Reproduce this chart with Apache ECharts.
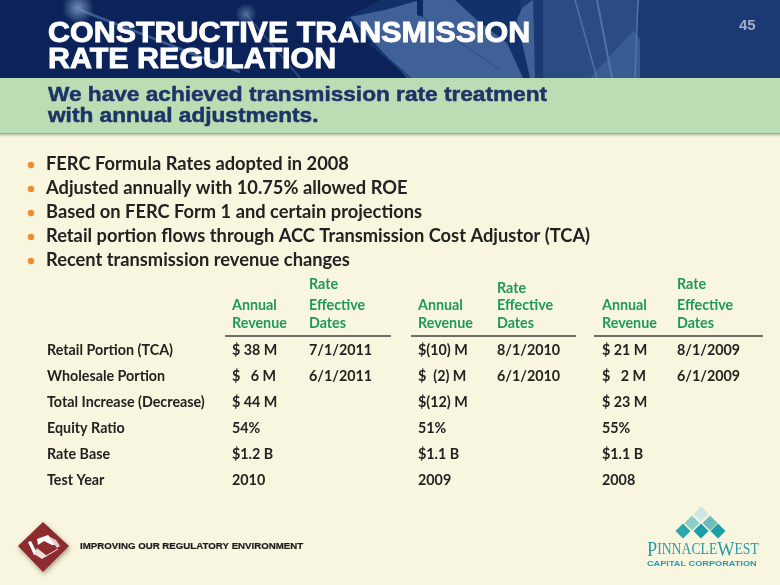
<!DOCTYPE html>
<html><head><meta charset="utf-8">
<style>html,body{margin:0;padding:0;background:#f9f6df}#c{width:780px;height:585px}</style>
<script src="https://cdn.jsdelivr.net/npm/echarts@6/dist/echarts.min.js"></script>
</head><body><div id="c"></div>
<script>
const titleLines = ['CONSTRUCTIVE TRANSMISSION', 'RATE REGULATION'];
const subtitleLines = ['We have achieved transmission rate treatment', 'with annual adjustments.'];
const pageNumber = '45';
const bullets = [
  'FERC Formula Rates adopted in 2008',
  'Adjusted annually with 10.75% allowed ROE',
  'Based on FERC Form 1 and certain projections',
  'Retail portion flows through ACC Transmission Cost Adjustor (TCA)',
  'Recent transmission revenue changes'
];
const rowLabels = ['Retail Portion (TCA)', 'Wholesale Portion', 'Total Increase (Decrease)', 'Equity Ratio', 'Rate Base', 'Test Year'];
const revenue2011 = ['$ 38 M', '$   6 M', '$ 44 M', '54%', '$1.2 B', '2010'];
const dates2011 = ['7/1/2011', '6/1/2011', '', '', '', ''];
const revenue2010 = ['$(10) M', '$  (2) M', '$(12) M', '51%', '$1.1 B', '2009'];
const dates2010 = ['8/1/2010', '6/1/2010', '', '', '', ''];
const revenue2009 = ['$ 21 M', '$   2 M', '$ 23 M', '55%', '$1.1 B', '2008'];
const dates2009 = ['8/1/2009', '6/1/2009', '', '', '', ''];
const footerText = 'IMPROVING OUR REGULATORY ENVIRONMENT';

const G = [];
const rect = (x, y, w, h, fill, z) => G.push({type:'rect', z:z||0, shape:{x,y,width:w,height:h}, style:{fill}, silent:true});
const poly = (pts, fill, z, opacity) => G.push({type:'polygon', z:z||1, shape:{points:pts}, style:{fill, opacity:opacity==null?1:opacity}, silent:true});
const line = (x1,y1,x2,y2,stroke,w,op,z) => G.push({type:'line', z:z||1, shape:{x1,y1,x2,y2}, style:{stroke,lineWidth:w,opacity:op==null?1:op}, silent:true});
const text = (s,x,y,size,fill,o) => { o=o||{}; G.push({type:'text', z:o.z||5, x, y, scaleX:o.sx||1, silent:true,
  style:{text:s, fill, stroke:o.bold?fill:null, lineWidth:o.bold||0, font:(o.weight||'bold')+' '+size+'px '+(o.family||'Lato'), textVerticalAlign:'middle'}}); };
const grad = (x,y,x2,y2,stops) => new echarts.graphic.LinearGradient(x,y,x2,y2,stops);

/* page + header */
rect(0,0,780,585,'#f9f6df');
rect(0,0,780,78,'#0b2358');
poly([[520,0],[780,0],[780,78],[520,78]],'#1b3a74');
poly([[543,0],[640,0],[636,30],[615,78],[543,78]],'#2b4b84');
poly([[590,78],[634,30],[640,40],[640,78]],'#3a5c94');
poly([[345,18],[380,0],[520,0],[523,30],[530,78],[410,78]],'#12306a');
poly([[420,0],[455,0],[477,20],[507,43],[523,78],[407,78],[350,17],[385,10]],'#3f6198');
poly([[417,0],[423,0],[423,17],[417,15]],'#0e2a62');
poly([[517,20],[522,8],[533,0],[535,78],[530,78]],'#3f6198');
rect(535,0,8,78,'#0f2c64');
line(423,17,500,70,'#2c4c84',1,.9,2);
line(370,43,410,78,'#1c3a72',2,.9,2);
line(575,0,597,78,'#5577aa',1.5,.9,2);
line(597,0,612,78,'#5577aa',2,.9,2);
line(638,0,635,78,'#5577aa',1.5,.9,2);
line(80,10,240,72,'#4b6ea6',2.5,.75,2);
line(246,14,300,78,'#4b6ea6',1.5,.6,2);
G.push({type:'circle', z:2, shape:{cx:78,cy:8,r:16}, silent:true, style:{fill:new echarts.graphic.RadialGradient(.5,.5,.5,[{offset:0,color:'rgba(130,160,205,.85)'},{offset:1,color:'rgba(130,160,205,0)'}])}});
G.push({type:'circle', z:2, shape:{cx:246,cy:14,r:11}, silent:true, style:{fill:new echarts.graphic.RadialGradient(.5,.5,.5,[{offset:0,color:'rgba(130,160,205,.6)'},{offset:1,color:'rgba(130,160,205,0)'}])}});

/* green band + shadow */
rect(0,78,780,55,'#bcdcb3',3);
rect(0,133,780,5,grad(0,0,0,1,[{offset:0,color:'#8f9a88'},{offset:1,color:'rgba(249,246,223,0)'}]),3);

/* header text */
text(titleLines[0],48,34,29,'#ffffff',{family:'Liberation Sans',sx:1.05,bold:.9});
text(titleLines[1],48,60,29,'#ffffff',{family:'Liberation Sans',sx:1.05,bold:.9});
text(pageNumber,739,26,15,'#a3aec4',{family:'Liberation Sans'});
text(subtitleLines[0],48,95,21,'#1c3468',{family:'Liberation Sans',sx:1.078,bold:.5});
text(subtitleLines[1],48,116,21,'#1c3468',{family:'Liberation Sans',sx:1.078,bold:.5});

/* bullets */
const bulletY = [164,188,212,236,260];
bullets.forEach((b,i)=>{
  G.push({type:'circle', z:5, shape:{cx:31,cy:bulletY[i]+1,r:3.2}, style:{fill:'#f08c2e'}, silent:true});
  text(b,46,bulletY[i],18.3,'#222222');
});

/* table */
const green = '#1e9a56', ink = '#222222';
[[225,391],[411,576],[594,763]].forEach(r=>line(r[0],336,r[1],336,'#6e6e66',2,1,4));
const revX = [232,418,602], dateX = [309,497,677], rateY = [284,288,284];
const revs = [revenue2011,revenue2010,revenue2009], dates = [dates2011,dates2010,dates2009];
const rowY = [350,376,402,428,454,480];
revX.forEach((x,c)=>{
  text('Annual',x,305,14.3,green);
  text('Revenue',x,323,14.3,green);
  text('Rate',dateX[c],rateY[c],14.3,green);
  text('Effective',dateX[c],305,14.3,green);
  text('Dates',dateX[c],323,14.3,green);
  rowY.forEach((y,r)=>{
    text(revs[c][r],x,y,14.3,ink);
    if(dates[c][r]) text(dates[c][r],dateX[c],y,14.3,ink);
  });
});
rowLabels.forEach((s,r)=>text(s,47,rowY[r],14.3,ink));

/* footer left logo */
G.push({type:'polygon', z:3, shape:{points:[[43,522],[69,546],[43,572],[18,546]]},
  style:{fill:'#8c2c2e', shadowBlur:5, shadowColor:'rgba(90,80,50,.55)', shadowOffsetX:1, shadowOffsetY:2}, silent:true});
poly([[37,539],[48,535],[58,545],[52,545],[44,541],[38,545]],'#ffffff',4);
poly([[28,542],[31,541],[37,553],[34,555]],'#ffffff',4);
poly([[34,554],[42,559],[47,556],[37,548]],'#f1dcdc',4);
poly([[48,536],[56,540],[60,546],[57,548]],'#e8caca',4);
line(46,556,58,549,'#f4e4e4',1,1,4);
text(footerText,80,546,9.5,'#1a1a1a',{family:'Liberation Sans',sx:1.02,bold:.2});

/* footer right logo */
const dia = (cx,cy,h,fill)=>poly([[cx,cy-h],[cx+h,cy],[cx,cy+h],[cx-h,cy]],fill,3);
dia(701,514,7.5,'#cfe6e2');
dia(692,523,7.5,'#8fcdca'); dia(710,523,7.5,'#6fbcbc');
dia(683,531,7.5,'#2ba6ae'); dia(701,531,7.5,'#1a9ea8'); dia(718,531,7.5,'#1a9ea8');
G.push({type:'text', z:5, x:647, y:550, scaleX:.83, silent:true, style:{
  text:'{a|P}{b|INNACLE}{a|W}{b|EST}', fill:'#2a9aa5', textVerticalAlign:'middle',
  rich:{a:{font:'22px Liberation Serif',fill:'#2a9aa5'},b:{font:'16.5px Liberation Serif',fill:'#2a9aa5'}}}});
text('CAPITAL CORPORATION',647,564,6.5,'#2a9aa5',{family:'Liberation Sans',sx:1.41});

const chart = echarts.init(document.getElementById('c'), null, {renderer:'canvas'});
chart.setOption({animation:false, backgroundColor:'#f9f6df', graphic:{elements:G}});
</script></body></html>
